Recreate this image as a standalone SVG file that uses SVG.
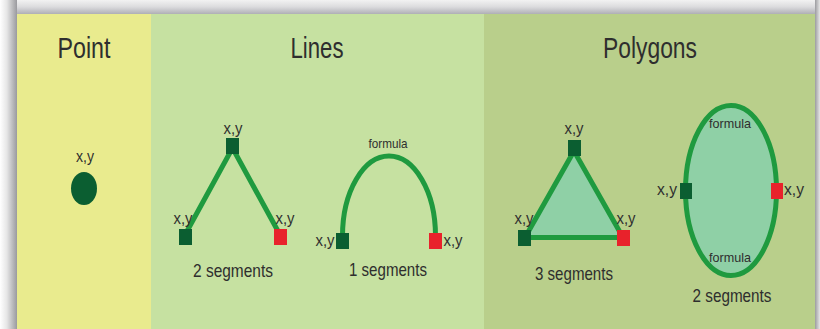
<svg xmlns="http://www.w3.org/2000/svg" width="820" height="329" viewBox="0 0 820 329">
<defs>
<linearGradient id="gTop" x1="0" y1="0" x2="0" y2="1">
<stop offset="0" stop-color="#f2f2f2"/>
<stop offset="0.45" stop-color="#dcdcde"/>
<stop offset="1" stop-color="#a9a9b0"/>
</linearGradient>
<linearGradient id="gLeft" x1="0" y1="0" x2="1" y2="0">
<stop offset="0" stop-color="#ffffff"/>
<stop offset="0.4" stop-color="#e6e6e6"/>
<stop offset="1" stop-color="#9a9a9e"/>
</linearGradient>
<linearGradient id="gRight" x1="0" y1="0" x2="1" y2="0">
<stop offset="0" stop-color="#9c9ca0"/>
<stop offset="1" stop-color="#e6e6e6"/>
</linearGradient>
<style>
.t{font-family:"Liberation Sans",Arial,sans-serif;fill:#2e2e2e;text-anchor:middle}
.title{font-size:29px}
.xy{font-size:17px}
.seg{font-size:19px}
.f{font-size:13.5px}
.wire{fill:none;stroke:#1f9a3f;stroke-width:5;stroke-linejoin:miter}
.dk{fill:#0b5e31}
.rd{fill:#e8222b}
.shape{fill:#8fd0a6;stroke:#1f9a3f;stroke-width:5}
</style>
</defs>

<!-- frame shadow -->
<rect x="0" y="0" width="820" height="329" fill="#ffffff"/>
<rect x="0" y="0" width="820" height="15" fill="url(#gTop)"/>
<rect x="0" y="0" width="17" height="329" fill="url(#gLeft)"/>
<rect x="815" y="0" width="5" height="329" fill="url(#gRight)"/>

<!-- panels -->
<rect x="17" y="14" width="134" height="315" fill="#e9eb8e"/>
<rect x="151" y="14" width="333" height="315" fill="#c6e1a1"/>
<rect x="484" y="14" width="331" height="315" fill="#b9cf8b"/>

<text class="t title" x="84" y="58" textLength="53" lengthAdjust="spacingAndGlyphs">Point</text>
<text class="t title" x="317" y="58" textLength="53" lengthAdjust="spacingAndGlyphs">Lines</text>
<text class="t title" x="650" y="58" textLength="94" lengthAdjust="spacingAndGlyphs">Polygons</text>

<!-- connectors -->
<g id="connectors">
<polyline class="wire" points="186,233 232.5,148 279,233"/>
<path class="wire" d="M342.5,236 A46.5,80 0 0 1 435.5,236"/>
<polygon class="shape" points="574,151 525,237.5 623,237.5"/>
<ellipse class="shape" cx="731" cy="190.5" rx="45.5" ry="85"/>
</g>

<!-- point -->
<g id="point">
<ellipse class="dk" cx="84" cy="188.5" rx="13" ry="16.5"/>
<text class="t xy" x="85" y="162" textLength="18" lengthAdjust="spacingAndGlyphs">x,y</text>
</g>

<!-- lines: 2 segments -->
<g id="line-top">
<rect class="dk" x="226" y="138" width="13" height="16"/>
<text class="t xy" x="233" y="134" textLength="19" lengthAdjust="spacingAndGlyphs">x,y</text>
</g>
<g id="line-left">
<rect class="dk" x="179" y="229" width="13" height="16"/>
<text class="t xy" x="183" y="224" textLength="19" lengthAdjust="spacingAndGlyphs">x,y</text>
</g>
<g id="line-right">
<rect class="rd" x="274" y="229" width="13" height="16"/>
<text class="t xy" x="285" y="224" textLength="19" lengthAdjust="spacingAndGlyphs">x,y</text>
</g>
<text class="t seg" x="233" y="277" textLength="80" lengthAdjust="spacingAndGlyphs">2 segments</text>

<!-- lines: 1 segment arc -->
<g id="arc-left">
<rect class="dk" x="336" y="233" width="13" height="16"/>
<text class="t xy" x="325" y="246" textLength="19" lengthAdjust="spacingAndGlyphs">x,y</text>
</g>
<g id="arc-right">
<rect class="rd" x="429" y="233" width="13" height="16"/>
<text class="t xy" x="453" y="246" textLength="19" lengthAdjust="spacingAndGlyphs">x,y</text>
</g>
<text class="t f" x="388" y="148" textLength="39" lengthAdjust="spacingAndGlyphs">formula</text>
<text class="t seg" x="388" y="276" textLength="78" lengthAdjust="spacingAndGlyphs">1 segments</text>

<!-- polygons: triangle -->
<g id="tri-top">
<rect class="dk" x="568" y="140" width="13" height="16"/>
<text class="t xy" x="574" y="134" textLength="19" lengthAdjust="spacingAndGlyphs">x,y</text>
</g>
<g id="tri-left">
<rect class="dk" x="518" y="230" width="13" height="16"/>
<text class="t xy" x="524" y="224" textLength="19" lengthAdjust="spacingAndGlyphs">x,y</text>
</g>
<g id="tri-right">
<rect class="rd" x="617" y="230" width="13" height="16"/>
<text class="t xy" x="626" y="224" textLength="19" lengthAdjust="spacingAndGlyphs">x,y</text>
</g>
<text class="t seg" x="574" y="280" textLength="78" lengthAdjust="spacingAndGlyphs">3 segments</text>

<!-- polygons: ellipse -->
<g id="ell-left">
<rect class="dk" x="680" y="183" width="12" height="16"/>
<text class="t xy" x="667" y="195" textLength="20" lengthAdjust="spacingAndGlyphs">x,y</text>
</g>
<g id="ell-right">
<rect class="rd" x="771" y="183" width="12" height="16"/>
<text class="t xy" x="794" y="195" textLength="20" lengthAdjust="spacingAndGlyphs">x,y</text>
</g>
<text class="t f" x="730" y="128" textLength="42" lengthAdjust="spacingAndGlyphs">formula</text>
<text class="t f" x="730" y="262" textLength="42" lengthAdjust="spacingAndGlyphs">formula</text>
<text class="t seg" x="732" y="302" textLength="79" lengthAdjust="spacingAndGlyphs">2 segments</text>
</svg>
